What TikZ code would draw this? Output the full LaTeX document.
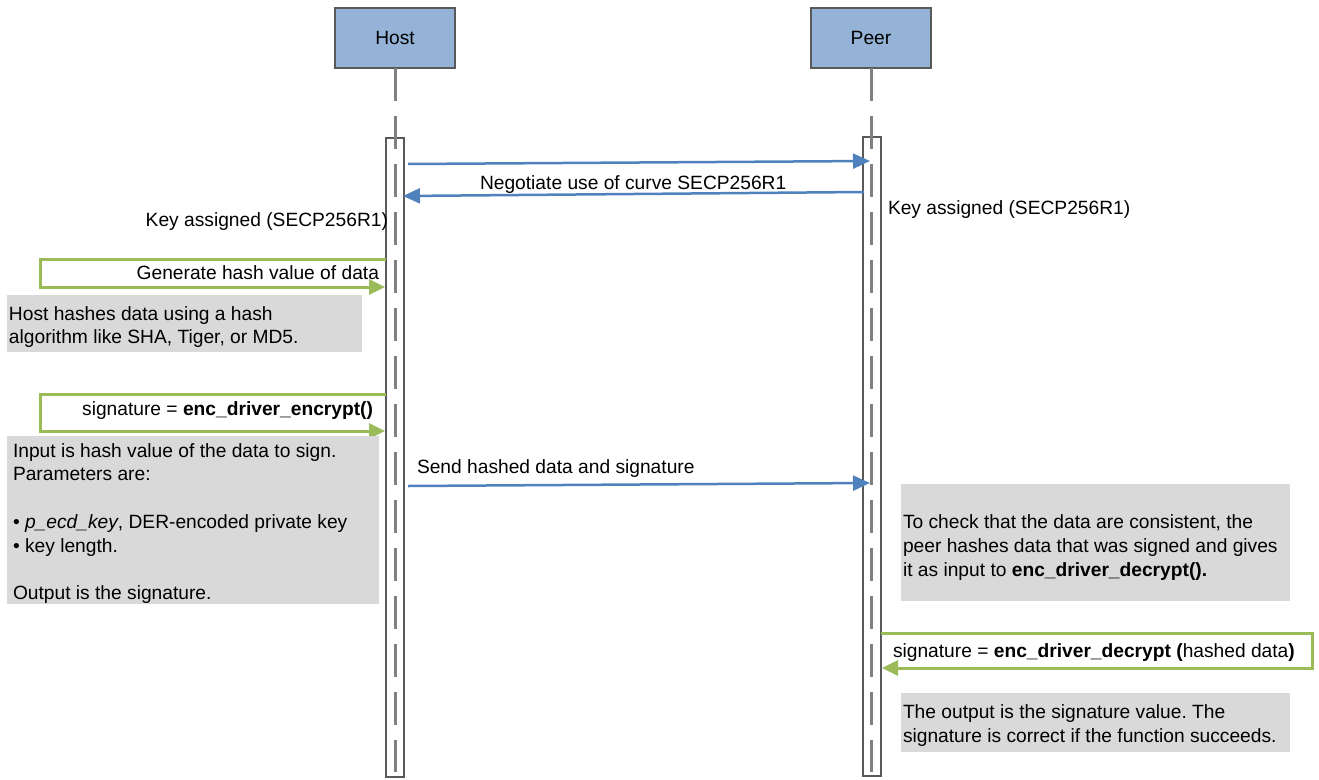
\documentclass[tikz,border=0pt]{standalone}
\usepackage{fontspec}
\setmainfont{Liberation Sans}
\usetikzlibrary{arrows.meta}
\frenchspacing
\definecolor{boxblue}{HTML}{95B3D7}
\definecolor{msgblue}{HTML}{4F81BD}
\definecolor{selfgreen}{HTML}{9BBB59}
\definecolor{notegray}{HTML}{D9D9D9}
\definecolor{edgegray}{HTML}{595959}
\definecolor{lifegray}{HTML}{808080}

\begin{document}
\begin{tikzpicture}[x=1pt,y=-1pt,
  every node/.style={font=\fontsize{19.2}{23.5}\selectfont, inner sep=0pt, outer sep=0pt},
  actor/.style={draw=edgegray, line width=1.2pt, fill=boxblue, minimum width=120pt, minimum height=60pt},
  activation/.style={draw=edgegray, line width=1.2pt, fill=white, minimum width=18pt, minimum height=639pt, anchor=north},
  lifeline/.style={draw=lifegray, line width=3pt, dash pattern=on 33pt off 15pt},
  msg/.style={draw=msgblue, line width=2.5pt, -{Triangle[length=17pt,width=15pt]}},
  selfmsg/.style={draw=selfgreen, line width=3pt, -{Triangle[length=16pt,width=15pt]}},
  note/.style={fill=notegray, anchor=north west},
  txt/.style={anchor=base west},
  rtxt/.style={anchor=base east}]

\useasboundingbox (0,0) rectangle (1319,779);

% participants
\node[actor] (host) at (395,38) {Host};
\node[actor] (peer) at (871,38) {Peer};

% activation bars
\node[activation] (hostact) at (395,138) {};
\node[activation] (peeract) at (872,137) {};

% lifelines
\coordinate (hostend) at (395,772);
\coordinate (peerend) at (871,772);
\draw[lifeline] (host.south) -- (hostend);
\draw[lifeline] (peer.south) -- (peerend);

% curve negotiation
\coordinate (m1a) at (408,164);
\coordinate (m1b) at (870,161);
\draw[msg] (m1a) -- (m1b);
\coordinate (m2a) at (864,192);
\coordinate (m2b) at (403,196);
\draw[msg] (m2a) -- (m2b);
\node[txt] (negotiate) at (480,189) {Negotiate use of curve SECP256R1};
\node[rtxt] (keyhost) at (388,226) {Key assigned (SECP256R1)};
\node[txt] (keypeer) at (888,214) {Key assigned (SECP256R1)};

% hashing on the host
\coordinate (g1a) at (386,259);
\coordinate (g1b) at (40,259);
\coordinate (g1c) at (40,287);
\coordinate (g1d) at (385,287);
\draw[selfmsg] (g1a) -- (g1b) -- (g1c) -- (g1d);
\node[rtxt] (gen) at (379,279) {Generate hash value of data};

\node[note, minimum width=355pt, minimum height=57pt] (note1) at (7,295) {};
\node[txt] (note1a) at (9,320) {Host hashes data using a hash};
\node[txt] (note1b) at (9,343) {algorithm like SHA, Tiger, or MD5.};

% signing on the host
\coordinate (g2a) at (386,394);
\coordinate (g2b) at (40,394);
\coordinate (g2c) at (40,431);
\coordinate (g2d) at (385,431);
\draw[selfmsg] (g2a) -- (g2b) -- (g2c) -- (g2d);
\node[rtxt] (enc) at (373,415) {signature = \textbf{enc\_driver\_encrypt()}};

\node[note, minimum width=372pt, minimum height=168pt] (note2) at (7,436) {};
\node[txt] (note2a) at (13,457) {Input is hash value of the data to sign.};
\node[txt] (note2b) at (13,480) {Parameters are:};
\node[txt] (note2c) at (13,528) {• \textit{p\_ecd\_key}, DER-encoded private key};
\node[txt] (note2d) at (13,552) {• key length.};
\node[txt] (note2e) at (13,599) {Output is the signature.};

% transfer to the peer
\coordinate (m3a) at (408,486);
\coordinate (m3b) at (870,483);
\draw[msg] (m3a) -- (m3b);
\node[txt] (send) at (417,473) {Send hashed data and signature};

\node[note, minimum width=389pt, minimum height=117pt] (note3) at (901,484) {};
\node[txt] (note3a) at (903,528) {To check that the data are consistent, the};
\node[txt] (note3b) at (903,552) {peer hashes data that was signed and gives};
\node[txt] (note3c) at (903,576) {it as input to \textbf{enc\_driver\_decrypt().}};

% verification on the peer
\coordinate (g3a) at (881,633);
\coordinate (g3b) at (1312,633);
\coordinate (g3c) at (1312,668);
\coordinate (g3d) at (882,668);
\draw[selfmsg] (g3a) -- (g3b) -- (g3c) -- (g3d);
\node[txt] (dec) at (893,657) {signature = \textbf{enc\_driver\_decrypt (}hashed data\textbf{)}};

\node[note, minimum width=389pt, minimum height=59pt] (note4) at (901,693) {};
\node[txt] (note4a) at (903,718) {The output is the signature value. The};
\node[txt] (note4b) at (903,742) {signature is correct if the function succeeds.};
\end{tikzpicture}
\end{document}
